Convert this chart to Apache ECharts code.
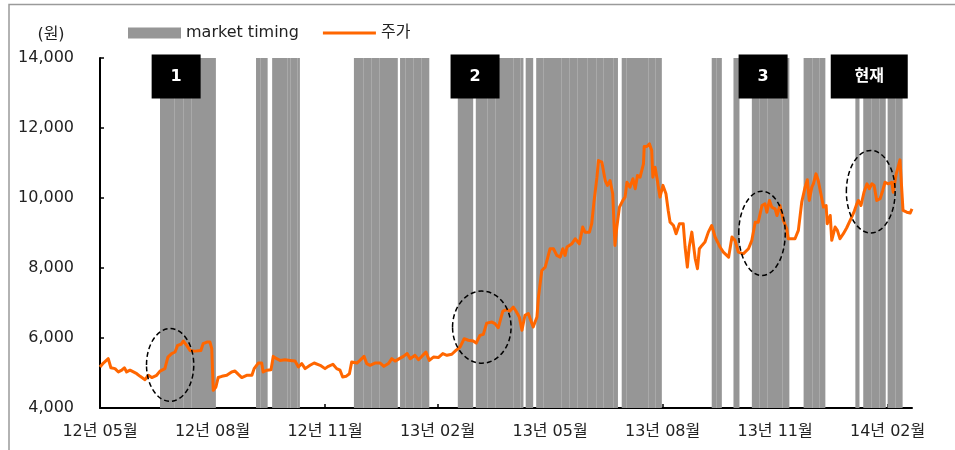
<!DOCTYPE html>
<html>
<head>
<meta charset="utf-8">
<script src="https://cdn.jsdelivr.net/npm/echarts@6/dist/echarts.min.js"></script>
<style>
html,body{margin:0;padding:0;background:#fff;}
#chart{width:955px;height:450px;}
</style>
</head>
<body>
<div id="chart"></div>
<script>
// x values are months since 2012-05 (0 = 12년 05월)
const xTickLabels = ['12년 05월','12년 08월','12년 11월','13년 02월','13년 05월','13년 08월','13년 11월','14년 02월'];
const yTicks = [4000, 6000, 8000, 10000, 12000, 14000];

const priceX = [0.00,0.09,0.22,0.29,0.40,0.49,0.58,0.65,0.71,0.80,0.89,0.98,1.07,1.20,1.29,1.38,1.51,1.60,1.73,1.81,
1.91,2.00,2.07,2.16,2.22,2.31,2.40,2.53,2.69,2.75,2.85,2.93,2.98,3.02,3.09,3.15,3.25,3.38,3.51,3.60,
3.69,3.78,3.91,4.05,4.11,4.22,4.31,4.35,4.45,4.56,4.62,4.71,4.80,4.93,5.07,5.20,5.29,5.38,5.47,5.60,
5.71,5.87,6.00,6.09,6.21,6.31,6.40,6.47,6.56,6.65,6.71,6.85,6.93,7.04,7.11,7.20,7.33,7.47,7.57,7.69,
7.78,7.87,7.98,8.09,8.19,8.27,8.40,8.49,8.58,8.69,8.78,8.89,9.02,9.14,9.25,9.38,9.49,9.60,9.71,9.82,
9.95,10.03,10.13,10.22,10.31,10.45,10.53,10.62,10.74,10.85,10.93,11.02,11.09,11.18,11.25,11.33,11.42,11.47,11.55,11.65,
11.69,11.78,11.87,12.00,12.09,12.18,12.27,12.34,12.40,12.45,12.58,12.67,12.78,12.87,12.93,13.05,13.11,13.17,13.25,13.29,
13.38,13.47,13.53,13.60,13.67,13.73,13.78,13.85,13.94,14.00,14.05,14.13,14.21,14.27,14.33,14.40,14.49,14.51,14.58,14.65,
14.71,14.74,14.80,14.86,14.93,15.01,15.09,15.15,15.20,15.29,15.36,15.45,15.55,15.60,15.66,15.71,15.78,15.82,15.87,15.93,
15.98,16.05,16.13,16.22,16.31,16.40,16.49,16.53,16.62,16.67,16.76,16.85,16.93,17.02,17.15,17.29,17.38,17.47,17.55,17.65,
17.73,17.78,17.85,17.91,18.00,18.05,18.13,18.22,18.31,18.35,18.45,18.53,18.62,18.71,18.80,18.86,18.91,18.98,19.02,19.09,
19.15,19.22,19.29,19.36,19.39,19.47,19.51,19.60,19.66,19.73,19.82,19.91,20.02,20.11,20.18,20.22,20.29,20.37,20.45,20.51,
20.58,20.64,20.71,20.80,20.87,20.93,21.02,21.11,21.15,21.23,21.33,21.41,21.51,21.60,21.65];

const priceY = [5170,5285,5410,5150,5125,5030,5080,5150,5030,5080,5030,4980,4905,4810,4935,4870,4935,5055,5125,5455,
5555,5600,5790,5820,5915,5790,5645,5625,5645,5840,5885,5885,5695,4505,4600,4870,4905,4935,5030,5055,
4960,4870,4935,4935,5125,5285,5285,5030,5080,5095,5475,5410,5360,5380,5360,5340,5170,5270,5125,5220,
5285,5220,5125,5190,5250,5125,5080,4885,4905,4980,5315,5285,5360,5475,5270,5220,5285,5285,5190,5270,
5410,5340,5410,5475,5555,5410,5505,5380,5475,5600,5360,5455,5440,5555,5505,5535,5645,5740,5980,5935,
5915,5855,6075,6105,6425,6455,6410,6295,6770,6810,6770,6885,6770,6600,6220,6645,6700,6740,6315,6600,
7170,7930,8025,8550,8550,8360,8310,8550,8360,8600,8690,8835,8690,9170,9025,9025,9265,9880,10595,11070,
11025,10500,10360,10500,10120,8645,9170,9740,9930,10025,10450,10310,10550,10265,10645,10595,10975,11470,11470,11545,
11355,10595,10880,10500,10025,10360,10120,9645,9310,9215,8980,9265,9265,8600,8025,8600,9025,8690,8265,7980,
8550,8645,8740,9025,9215,8885,8690,8600,8455,8405,8310,8885,8790,8455,8405,8550,8790,9310,9310,9785,
9835,9595,9930,9740,9690,9500,9785,9360,9120,8835,8835,8835,9075,9880,10310,10520,9930,10310,10405,10690,
10500,10120,9740,9785,9265,9500,8790,9170,9075,8835,8980,9150,9405,9620,9835,9930,9785,10165,10405,10265,
10405,10360,9930,9980,10215,10450,10405,10450,10165,10690,11090,9645,9595,9570,9690];

// market timing periods [start, end] in months
const timingBlocks = [[1.60,3.09],[4.16,4.47],[4.59,5.33],[6.77,7.94],[8.00,8.78],[9.54,9.95],[10.02,11.29],
[11.35,11.55],[11.63,13.81],[13.91,14.98],[16.31,16.58],[16.89,17.05],[17.38,18.38],[18.76,19.34],
[20.14,20.25],[20.35,20.95],[21.00,21.40]];
const timingDividers = [1.98,2.21,2.42,4.27,4.98,5.07,5.25,7.00,7.22,7.45,8.14,8.35,8.56,10.31,10.53,11.00,11.20,
11.82,12.29,12.51,12.73,12.99,13.22,13.42,13.69,14.03,14.61,14.80,16.43,17.58,17.79,18.18,18.98,19.18,20.56,20.77,21.20];

// annotations: [centre month, centre price, half width (months), half height (price)]
const ellipses = [[1.87,5230,0.63,1040],[10.18,6310,0.78,1030],[17.65,8990,0.62,1205],[20.55,10180,0.65,1180]];
const boxLabels = ['1','2','3','현재'];
const boxMonths = [2.03,10.0,17.68,20.51];
const boxPrice = 13470;

const FONT = "'DejaVu Sans','Noto Sans CJK KR',sans-serif";
const chart = echarts.init(document.getElementById('chart'));

const priceData = priceX.map((x, i) => [x, priceY[i]]);

chart.setOption({
  animation: false,
  backgroundColor: '#fff',
  textStyle: {fontFamily: FONT},
  grid: {left: 100, right: 43, top: 58, bottom: 42},
  legend: {
    left: 128, top: 25, padding: 0,
    itemWidth: 53, itemHeight: 11, itemGap: 24,
    textStyle: {fontSize: 16, color: '#222', fontFamily: FONT},
    data: [
      {name: 'market timing', icon: 'rect'},
      {name: '주가', icon: 'path://M0,0L0.01,0M0,4L53,4L53,7L0,7ZM0,11L0.01,11'}
    ]
  },
  xAxis: {
    type: 'value', min: 0, max: 21.65, interval: 3,
    splitLine: {show: false},
    axisLine: {show: true, onZero: false, lineStyle: {color: '#000', width: 2}},
    axisTick: {show: true, inside: true, length: 4, lineStyle: {color: '#000', width: 1.5}},
    axisLabel: {
      showMaxLabel: false, margin: 16, fontSize: 16, color: '#222', fontFamily: FONT,
      formatter: v => { const k = Math.round(v / 3); return Math.abs(v - k * 3) < 1e-6 && xTickLabels[k] ? xTickLabels[k] : ''; }
    }
  },
  yAxis: {
    type: 'value', min: 4000, max: 14000, interval: 2000,
    splitLine: {show: false},
    axisLine: {show: true, lineStyle: {color: '#000', width: 2}},
    axisTick: {show: true, inside: true, length: 4, lineStyle: {color: '#000', width: 1.5}},
    axisLabel: {margin: 26, fontSize: 16, color: '#222', fontFamily: FONT,
      formatter: v => v.toLocaleString('en-US')}
  },
  series: [
    {
      name: 'market timing', type: 'custom', z: 1,
      itemStyle: {color: '#969696'},
      encode: {x: [0, 1]},
      data: timingBlocks,
      renderItem: (params, api) => {
        const s = api.coord([api.value(0), 14000]);
        const e = api.coord([api.value(1), 4000]);
        return {type: 'rect', shape: {x: s[0], y: s[1], width: e[0] - s[0], height: e[1] - s[1]},
          style: {fill: '#969696'}};
      }
    },
    {
      name: 'divider', type: 'custom', z: 2, silent: true,
      encode: {x: 0},
      data: timingDividers.map(d => [d]),
      renderItem: (params, api) => {
        const s = api.coord([api.value(0), 14000]);
        const e = api.coord([api.value(0), 4000]);
        const x = Math.round(s[0]) + 0.5;
        return {type: 'line', shape: {x1: x, y1: s[1], x2: x, y2: e[1]},
          style: {stroke: '#a9a9a9', lineWidth: 1}};
      }
    },
    {
      name: '주가', type: 'line', z: 5, symbol: 'none', smooth: false,
      itemStyle: {color: '#ff6600'},
      lineStyle: {color: '#ff6600', width: 3, join: 'round'},
      data: priceData
    }
  ]
});

const graphics = [];
graphics.push({type: 'rect', silent: true, z: 0, shape: {x: 9, y: 4.5, width: 1000, height: 500},
  style: {fill: 'none', stroke: '#9a9a9a', lineWidth: 1.5}});
graphics.push({type: 'text', z: 20, style: {text: '(원)', x: 51, y: 35, align: 'center', verticalAlign: 'middle',
  font: '16px ' + FONT, fill: '#222'}});
ellipses.forEach(el => {
  const c = chart.convertToPixel({gridIndex: 0}, [el[0], el[1]]);
  const r = chart.convertToPixel({gridIndex: 0}, [el[0] + el[2], el[1] + el[3]]);
  graphics.push({type: 'ellipse', z: 20, shape: {cx: c[0], cy: c[1], rx: Math.abs(r[0] - c[0]), ry: Math.abs(c[1] - r[1])},
    style: {fill: null, stroke: '#000', lineWidth: 1.5, lineDash: [5, 3]}});
});
boxLabels.forEach((t, i) => {
  const c = chart.convertToPixel({gridIndex: 0}, [boxMonths[i], boxPrice]);
  const w = t.length > 1 ? 77 : 49;
  graphics.push({type: 'rect', z: 20, shape: {x: c[0] - w / 2, y: c[1] - 22, width: w, height: 44},
    style: {fill: '#000'}});
  graphics.push({type: 'text', z: 21, style: {text: t, x: c[0], y: c[1], align: 'center', verticalAlign: 'middle',
    font: 'bold 16px ' + FONT, fill: '#fff'}});
});
chart.setOption({graphic: graphics});
</script>
</body>
</html>
